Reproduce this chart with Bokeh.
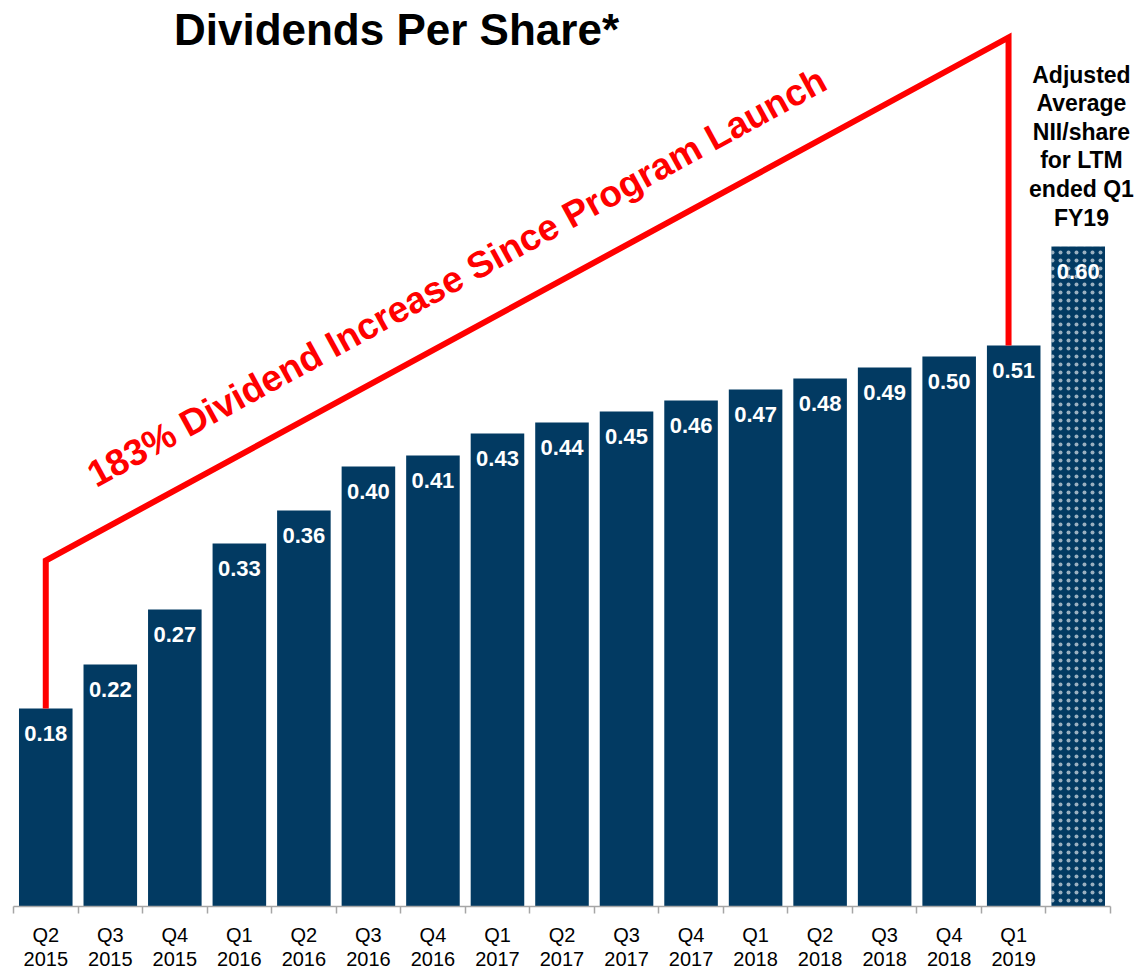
from bokeh.plotting import figure
from bokeh.models import ColumnDataSource, FixedTicker, LabelSet, Range1d
from bokeh.core.properties import value
from bokeh.embed import file_html
from bokeh.resources import INLINE

# ---- data ----
categories = ["Q2\n2015", "Q3\n2015", "Q4\n2015", "Q1\n2016", "Q2\n2016", "Q3\n2016",
              "Q4\n2016", "Q1\n2017", "Q2\n2017", "Q3\n2017", "Q4\n2017", "Q1\n2018",
              "Q2\n2018", "Q3\n2018", "Q4\n2018", "Q1\n2019"]
dividends = [0.18, 0.22, 0.27, 0.33, 0.36, 0.40, 0.41, 0.43, 0.44, 0.45, 0.46, 0.47,
             0.48, 0.49, 0.50, 0.51]
nii_category = ""
nii_value = 0.60
nii_text = "Adjusted\nAverage\nNII/share\nfor LTM\nended Q1\nFY19"
title_text = "Dividends Per Share*"
increase_text = "183% Dividend Increase Since Program Launch"

FONT = "Liberation Sans"
BAR = "#023A62"
RED = "#FF0000"

n = len(dividends)
ntot = n + 1
xs = [i + 0.5 for i in range(n)]
x_nii = n + 0.5

p = figure(width=1134, height=973, output_backend="svg", toolbar_location=None, tools="",
           x_range=Range1d(-0.2015, ntot + 0.372), y_range=Range1d(-0.0609, 0.8236),
           min_border_left=0, min_border_right=0, min_border_top=0, min_border_bottom=0,
           outline_line_color=None, background_fill_color="white", border_fill_color="white")
p.yaxis.visible = False
p.xgrid.visible = False
p.ygrid.visible = False

src = ColumnDataSource(dict(x=xs, top=dividends, label=[f"{v:.2f}" for v in dividends]))
p.vbar(x="x", top="top", bottom=0, width=0.83, source=src, fill_color=BAR, line_color=None)

nii_src = ColumnDataSource(dict(x=[x_nii], top=[nii_value], label=[f"{nii_value:.2f}"]))
p.vbar(x="x", top="top", bottom=0, width=0.83, source=nii_src, fill_color=BAR, line_color=None,
       hatch_pattern=".", hatch_color="white", hatch_scale=8, hatch_weight=0.5, hatch_alpha=0.6)

for s in (src, nii_src):
    p.add_layout(LabelSet(x="x", y="top", text="label", source=s, y_offset=-18,
                          text_align="center", text_baseline="top", text_color="white",
                          text_font=value(FONT), text_font_style="bold", text_font_size="22px"))

# bracket
bracket_x = [xs[0], xs[0], xs[-1] - 0.08, xs[-1] - 0.08]
bracket_y = [dividends[0], 0.3145, 0.790, dividends[-1]]
p.line(bracket_x, bracket_y, line_color=RED, line_width=6, line_join="miter")

p.text(x=[6.87], y=[0.572], text=[increase_text], angle=28.6, angle_units="deg",
       text_color=RED, text_font=value(FONT), text_font_style="bold", text_font_size="37px",
       text_align="center", text_baseline="middle")

p.text(x=[5.935], y=[0.8194], text=[title_text], text_color="black",
       text_font=value(FONT), text_font_style="bold", text_font_size="44px",
       text_align="center", text_baseline="top")

p.text(x=[16.55], y=[0.768], text=[nii_text], text_color="black",
       text_font=value(FONT), text_font_style="bold", text_font_size="23px",
       text_align="center", text_baseline="top", text_line_height=1.1)

# axis
ax = p.xaxis[0]
ax.fixed_location = 0
ax.ticker = FixedTicker(ticks=[i + 0.5 for i in range(ntot)], minor_ticks=list(range(ntot + 1)))
ax.major_label_overrides = {i + 0.5: lab for i, lab in enumerate(categories + [nii_category])}
ax.bounds = (0, ntot)
ax.axis_line_color = "#A6A6A6"
ax.axis_line_width = 1.5
ax.major_tick_line_color = None
ax.major_tick_in = 0
ax.major_tick_out = 0
ax.minor_tick_line_color = "#A6A6A6"
ax.minor_tick_line_width = 1.5
ax.minor_tick_in = 0
ax.minor_tick_out = 7
ax.major_label_standoff = 10
ax.major_label_text_font = FONT
ax.major_label_text_font_size = "20px"
ax.major_label_text_color = "black"
ax.major_label_text_line_height = 1.13

open("out.html", "w").write(file_html(p, INLINE))
